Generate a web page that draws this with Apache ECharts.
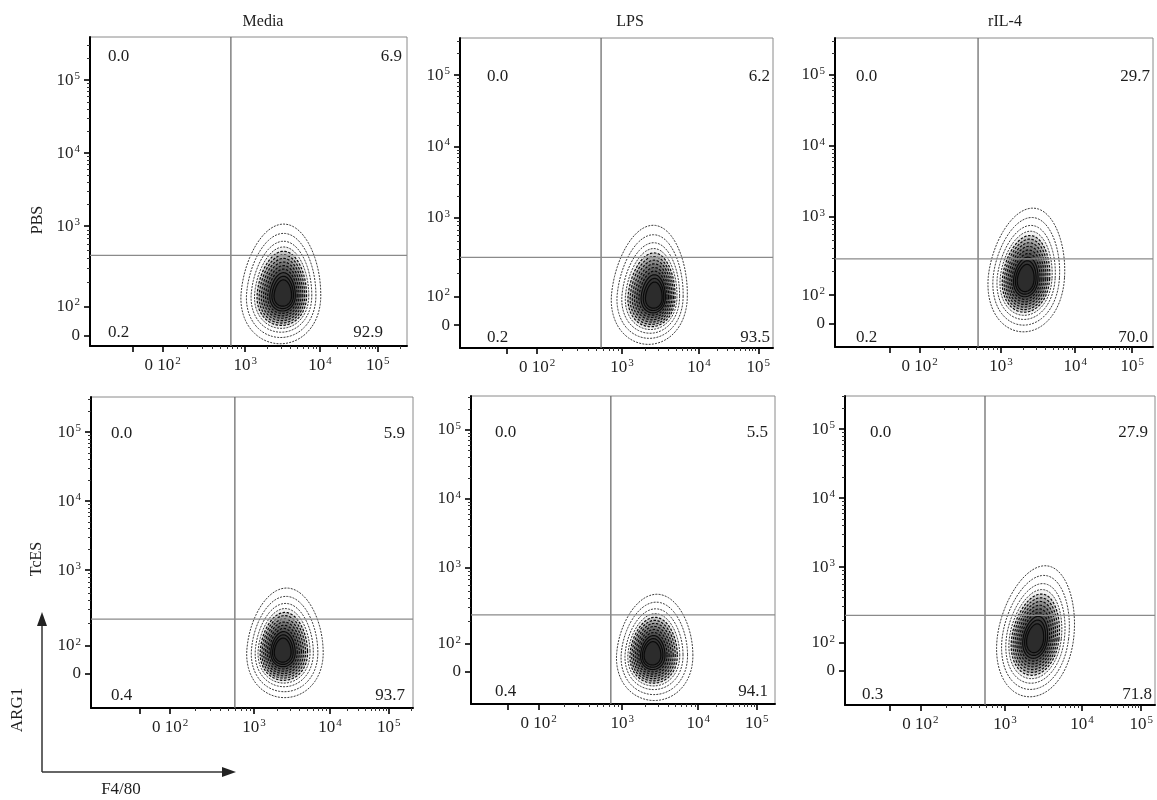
<!DOCTYPE html>
<html><head><meta charset="utf-8">
<script src="https://cdn.jsdelivr.net/npm/echarts@6/dist/echarts.min.js"></script>
<style>html,body{margin:0;padding:0;background:#fff}#c{width:1157px;height:800px}</style>
</head><body><div id="c"></div>
<script>
// ================= DATA =================
const columns = ['Media', 'LPS', 'rIL-4'];
const rows = ['PBS', 'TcES'];
const xAxisName = 'F4/80';
const yAxisName = 'ARG1';
// panel order: PBS-Media, PBS-LPS, PBS-rIL-4, TcES-Media, TcES-LPS, TcES-rIL-4
const quadUL = ['0.0', '0.0', '0.0', '0.0', '0.0', '0.0'];
const quadUR = ['6.9', '6.2', '29.7', '5.9', '5.5', '27.9'];
const quadLL = ['0.2', '0.2', '0.2', '0.4', '0.4', '0.3'];
const quadLR = ['92.9', '93.5', '70.0', '93.7', '94.1', '71.8'];
// tick labels, positions in display (decade) units of the biexponential axis
const xTickValues = [1.9, 3, 4, 4.77];
const xTickLabels = [['0 10', '2'], ['10', '3'], ['10', '4'], ['10', '5']];
const yTickValues = [1.5, 1.9, 3, 4, 5];
const yTickLabels = [['0', ''], ['10', '2'], ['10', '3'], ['10', '4'], ['10', '5']];
// displayed axis range per panel
const xMin = [0.93, 0.90, 0.76, 0.86, 1.01, 0.92];
const xMax = [5.16, 4.96, 5.05, 5.09, 5.01, 4.95];
const yMin = [1.36, 1.18, 1.17, 1.00, 1.03, 1.00];
const yMax = [5.59, 5.52, 5.52, 5.51, 5.49, 5.48];
// quadrant gates
const gateX = [2.81, 2.73, 2.69, 2.75, 2.85, 2.74];
const gateY = [2.60, 2.45, 2.41, 2.29, 2.32, 2.30];
// outermost contour of the population and its density peak
const blobCx = [3.48, 3.36, 3.35, 3.41, 3.43, 3.41];
const blobCy = [2.10, 1.95, 2.21, 1.86, 1.78, 2.06];
const blobRx = [0.53, 0.49, 0.51, 0.50, 0.50, 0.49];
const blobRyTop = [0.93, 0.95, 0.92, 0.88, 0.84, 0.97];
const blobRyBot = [0.71, 0.72, 0.83, 0.71, 0.70, 0.95];
const blobTilt = [3, 4, 7, 2, 3, 10];
const peakX = [3.51, 3.43, 3.33, 3.37, 3.39, 3.39];
const peakY = [2.05, 1.88, 2.11, 1.81, 1.74, 1.94];
const contourLevels = [1, 0.87, 0.76, 0.68, 0.62, 0.57, 0.52, 0.47, 0.42, 0.37, 0.32, 0.27, 0.22];

// ================= LAYOUT =================
const grids = [
  {left: 90, top: 37, width: 317, height: 309},
  {left: 460, top: 38, width: 313, height: 310},
  {left: 835, top: 38, width: 318, height: 309},
  {left: 91, top: 397, width: 322, height: 311},
  {left: 471, top: 396, width: 304, height: 308},
  {left: 845, top: 396, width: 310, height: 309}
];
const qULpos = [[108, 57], [487, 77], [856, 77], [111, 434], [495, 433], [870, 433]];
const qURpos = [[402, 57], [770, 77], [1150, 77], [405, 434], [768, 433], [1148, 433]];
const qLLpos = [[108, 333], [487, 338], [856, 338], [111, 696], [495, 692], [862, 695]];
const qLRpos = [[383, 333], [770, 338], [1148, 338], [405, 696], [768, 692], [1152, 695]];
const titlePos = [[263, 22], [630, 22], [1005, 22]];
const rowLabelPos = [[38, 220], [37, 559]];

const FONT = 'Liberation Serif';
const TXT = '#1e1e1e';
const rich = {
  b: {fontFamily: FONT, fontSize: 17, color: TXT, lineHeight: 19},
  s: {fontFamily: FONT, fontSize: 11, color: TXT, verticalAlign: 'top', lineHeight: 19, padding: [0, 0, 6, 1]}
};
function labelFmt(vals, labs) {
  return function (v) {
    for (let i = 0; i < vals.length; i++) {
      if (Math.abs(vals[i] - v) < 1e-6) {
        return labs[i][1] ? '{b|' + labs[i][0] + '}{s|' + labs[i][1] + '}' : '{b|' + labs[i][0] + '}';
      }
    }
    return '';
  };
}
function minorTicks(majors, lo, hi) {
  const out = [];
  for (let i = 0; i < majors.length - 1; i++) {
    const a = majors[i], b = majors[i + 1];
    for (let k = 2; k <= 9; k++) out.push(a + (b - a) * Math.log10(k));
  }
  const last = majors[majors.length - 1];
  for (let k = 2; k <= 9; k++) out.push(last + Math.log10(k));
  return out.filter(v => v > lo && v < hi);
}

const xAxes = [], yAxes = [], series = [], graphics = [];
const gridOpts = grids.map(g => Object.assign({show: true, borderColor: '#8a8a8a', borderWidth: 1, containLabel: false}, g));

for (let p = 0; p < 6; p++) {
  xAxes.push({
    type: 'value', gridIndex: p, min: xMin[p], max: xMax[p], position: 'bottom',
    axisLine: {show: true, onZero: false, lineStyle: {color: '#000', width: 2}},
    splitLine: {show: false},
    axisTick: {show: true, inside: false, length: 6, lineStyle: {color: '#000', width: 1.6}, customValues: xTickValues.concat([1.5])},
    axisLabel: {show: true, margin: 10, customValues: xTickValues, formatter: labelFmt(xTickValues, xTickLabels), rich: rich, hideOverlap: false}
  });
  yAxes.push({
    type: 'value', gridIndex: p, min: yMin[p], max: yMax[p], position: 'left',
    axisLine: {show: true, onZero: false, lineStyle: {color: '#000', width: 2}},
    splitLine: {show: false},
    axisTick: {show: true, inside: false, length: 6, lineStyle: {color: '#000', width: 1.6}, customValues: yTickValues},
    axisLabel: {show: true, margin: 10, customValues: yTickValues, formatter: labelFmt(yTickValues, yTickLabels), rich: rich, hideOverlap: false}
  });
}
for (let p = 0; p < 6; p++) {
  xAxes.push({
    type: 'value', gridIndex: p, min: xMin[p], max: xMax[p], position: 'bottom', offset: 0,
    axisLine: {show: false, onZero: false}, splitLine: {show: false}, axisLabel: {show: false},
    axisTick: {show: true, inside: false, length: 3, lineStyle: {color: '#333', width: 1}, customValues: minorTicks([1.9, 3, 4, 4.77], xMin[p], xMax[p])}
  });
  yAxes.push({
    type: 'value', gridIndex: p, min: yMin[p], max: yMax[p], position: 'left', offset: 0,
    axisLine: {show: false, onZero: false}, splitLine: {show: false}, axisLabel: {show: false},
    axisTick: {show: true, inside: false, length: 3, lineStyle: {color: '#333', width: 1}, customValues: minorTicks([1.9, 3, 4, 5], yMin[p], yMax[p])}
  });
}

function renderContour(params, api) {
  const cx = api.value(0), cy = api.value(1), rx = api.value(2), ryT = api.value(3), ryB = api.value(4);
  const tilt = api.value(5) * Math.PI / 180, lvl = api.value(6);
  const c = api.coord([cx, cy]);
  const s1 = api.size([rx, ryT]), s2 = api.size([rx, ryB]);
  const pts = [];
  const N = 90;
  for (let k = 0; k < N; k++) {
    const t = k / N * 2 * Math.PI;
    const sy = Math.sin(t);
    const ex = s1[0] * Math.cos(t) * (1 + 0.1 * sy);
    const ey = sy < 0 ? s1[1] * sy : s2[1] * sy;
    pts.push([c[0] + ex * Math.cos(tilt) - ey * Math.sin(tilt), c[1] + ex * Math.sin(tilt) + ey * Math.cos(tilt)]);
  }
  let fill = 'none';
  if (lvl >= 4) fill = 'rgba(0,0,0,0.17)';
  else if (lvl >= 3) fill = 'rgba(0,0,0,0.05)';
  const cs = params.coordSys;
  return {
    type: 'group',
    clipPath: {type: 'rect', shape: {x: cs.x, y: cs.y, width: cs.width, height: cs.height}},
    children: [{
      type: 'polygon',
      shape: {points: pts},
      style: {fill: fill, stroke: lvl < 4 ? '#3a3a3a' : '#0a0a0a', lineWidth: lvl < 4 ? 1 : 1.2,
        lineJoin: 'round', lineCap: 'butt',
        lineDash: lvl < 4 ? [2, 1.2] : (lvl < 10 ? [2.5, 1.5] : null)}
    }]
  };
}

for (let p = 0; p < 6; p++) {
  const data = contourLevels.map((f, i) => [
    peakX[p] + f * (blobCx[p] - peakX[p]),
    peakY[p] + f * (blobCy[p] - peakY[p]),
    blobRx[p] * f, blobRyTop[p] * f, blobRyBot[p] * f, blobTilt[p], i
  ]);
  series.push({
    type: 'custom', xAxisIndex: p, yAxisIndex: p, renderItem: renderContour,
    data: data, silent: true, animation: false, z: 2
  });
  series.push({
    type: 'line', xAxisIndex: p, yAxisIndex: p, symbol: 'none', silent: true, animation: false, z: 3,
    lineStyle: {color: '#6e6e6e', width: 1.3},
    data: [[gateX[p], yMin[p]], [gateX[p], yMax[p]]]
  });
  series.push({
    type: 'line', xAxisIndex: p, yAxisIndex: p, symbol: 'none', silent: true, animation: false, z: 3,
    lineStyle: {color: '#8a8a8a', width: 1.3},
    data: [[xMin[p], gateY[p]], [xMax[p], gateY[p]]]
  });
  const qs = {fontFamily: FONT, fontSize: 17, fill: TXT};
  graphics.push({type: 'text', x: qULpos[p][0], y: qULpos[p][1], style: Object.assign({text: quadUL[p], align: 'left', verticalAlign: 'middle'}, qs), z: 10});
  graphics.push({type: 'text', x: qURpos[p][0], y: qURpos[p][1], style: Object.assign({text: quadUR[p], align: 'right', verticalAlign: 'middle'}, qs), z: 10});
  graphics.push({type: 'text', x: qLLpos[p][0], y: qLLpos[p][1], style: Object.assign({text: quadLL[p], align: 'left', verticalAlign: 'middle'}, qs), z: 10});
  graphics.push({type: 'text', x: qLRpos[p][0], y: qLRpos[p][1], style: Object.assign({text: quadLR[p], align: 'right', verticalAlign: 'middle'}, qs), z: 10});
}

columns.forEach((t, i) => {
  graphics.push({type: 'text', x: titlePos[i][0], y: titlePos[i][1], style: {text: t, fontFamily: FONT, fontSize: 16, fill: TXT, align: 'center', verticalAlign: 'middle'}});
});
rows.forEach((t, i) => {
  graphics.push({type: 'text', x: rowLabelPos[i][0], y: rowLabelPos[i][1], rotation: Math.PI / 2, style: {text: t, fontFamily: FONT, fontSize: 16, fill: TXT, align: 'center', verticalAlign: 'middle'}});
});
graphics.push({type: 'line', shape: {x1: 42, y1: 772, x2: 42, y2: 622}, style: {stroke: '#333', lineWidth: 1.5}});
graphics.push({type: 'polygon', shape: {points: [[42, 612], [37, 626], [47, 626]]}, style: {fill: '#222'}});
graphics.push({type: 'line', shape: {x1: 42, y1: 772, x2: 226, y2: 772}, style: {stroke: '#333', lineWidth: 1.5}});
graphics.push({type: 'polygon', shape: {points: [[236, 772], [222, 767], [222, 777]]}, style: {fill: '#222'}});
graphics.push({type: 'text', x: 18, y: 710, rotation: Math.PI / 2, style: {text: yAxisName, fontFamily: FONT, fontSize: 17, fill: TXT, align: 'center', verticalAlign: 'middle'}});
graphics.push({type: 'text', x: 121, y: 790, style: {text: xAxisName, fontFamily: FONT, fontSize: 17, fill: TXT, align: 'center', verticalAlign: 'middle'}});

const chart = echarts.init(document.getElementById('c'), null, {renderer: 'canvas'});
chart.setOption({
  backgroundColor: '#fff',
  animation: false,
  grid: gridOpts,
  xAxis: xAxes,
  yAxis: yAxes,
  series: series,
  graphic: graphics
});
</script>
</body></html>
